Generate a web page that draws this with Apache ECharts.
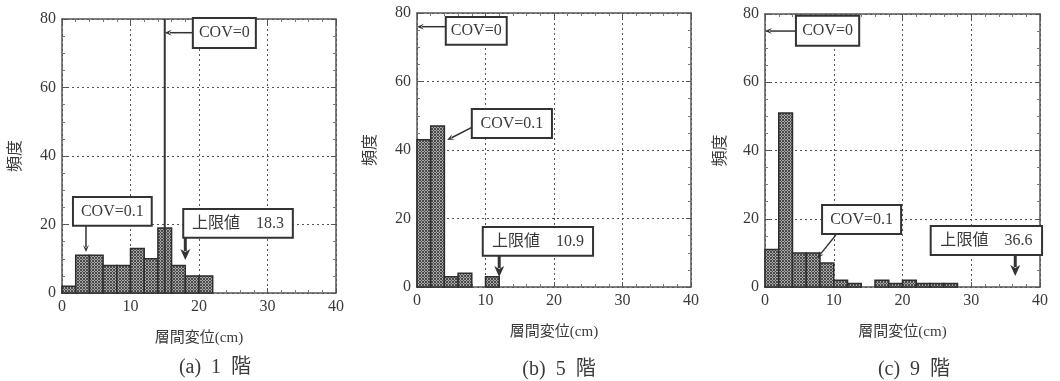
<!DOCTYPE html>
<html><head><meta charset="utf-8">
<script src="https://cdn.jsdelivr.net/npm/echarts@6/dist/echarts.min.js"></script>
<style>html,body{margin:0;padding:0;background:#fff}#c{width:1060px;height:381px}</style>
</head><body><div id="c"></div>
<script>
// ---- data ----
const BIN_START = [0, 2, 4, 6, 8, 10, 12, 14, 16, 18, 20, 22, 24, 26];
const BIN_WIDTH = 2;
const COUNTS_A = [2, 11, 11, 8, 8, 13, 10, 19, 8, 5, 5, 0, 0, 0];   // (a) 1階
const COUNTS_B = [43, 47, 3, 4, 0, 3, 0, 0, 0, 0, 0, 0, 0, 0];     // (b) 5階
const COUNTS_C = [11, 51, 10, 10, 7, 2, 1, 0, 2, 1, 2, 1, 1, 1];   // (c) 9階
const X_TICKS = [0, 10, 20, 30, 40];
const Y_TICKS = [0, 20, 40, 60, 80];
const CAPTIONS = ['(a)  1  階', '(b)  5  階', '(c)  9  階'];
const X_NAME = '層間変位(cm)';
const Y_NAME = '頻度';

// annotations in data coordinates of each panel
const ANN = [
  [
    {vline: 15},
    {box: [19.1, 28.3, 71.5, 80.3], text: 'COV=0', arrow: [[19.1, 76], [15, 76]]},
    {box: [1.6, 13.1, 19.6, 28.0], text: 'COV=0.1', arrow: [[3.5, 19.6], [3.5, 12]]},
    {box: [17.7, 33.7, 16.1, 24.5], text: '上限値　18.3', arrow: [[18, 16.1], [18, 9.6]], thick: true}
  ],
  [
    {box: [4.2, 13.1, 70.7, 78.8], text: 'COV=0', arrow: [[4.2, 76], [0, 76]]},
    {box: [8.0, 19.7, 43.5, 52.0], text: 'COV=0.1', arrow: [[8.0, 46.6], [4.4, 42.9]]},
    {box: [9.6, 25.7, 9.1, 17.5], text: '上限値　10.9', arrow: [[12, 9.1], [12, 2.9]], thick: true}
  ],
  [
    {box: [4.5, 13.7, 70.7, 79.5], text: 'COV=0', arrow: [[4.5, 75], [0, 75]]},
    {box: [8.3, 19.8, 15.5, 24.0], text: 'COV=0.1', arrow: [[10.3, 15.2], [7.6, 8.5]]},
    {box: [24.1, 40.3, 9.4, 17.9], text: '上限値　36.6', arrow: [[36.4, 9.4], [36.4, 3.2]], thick: true}
  ]
];

const FONT = "'Liberation Serif', 'Noto Sans CJK JP', serif";
const INK = '#3a3a3a';

// hatched fill
const pat = document.createElement('canvas');
pat.width = 3; pat.height = 3;
(function(){
  const g = pat.getContext('2d');
  g.fillStyle = '#a8a8a8'; g.fillRect(0,0,3,3);
  g.fillStyle = '#4a4a4a';
  g.fillRect(0,0,1,1); g.fillRect(1,1,1,1); g.fillRect(2,2,1,1);
  g.fillRect(2,0,1,1); g.fillRect(0,2,1,1);
})();

const GRIDS = [
  {left: 62, top: 19, width: 274, height: 274},
  {left: 417, top: 13, width: 274, height: 274},
  {left: 765, top: 14, width: 275, height: 273}
];
const Y_NAME_GAP = [38, 38, 36];

const xAxes = [], yAxes = [], series = [];
const countsAll = [COUNTS_A, COUNTS_B, COUNTS_C];

GRIDS.forEach((g, i) => {
  const common = {
    gridIndex: i, type: 'value', min: 0,
    axisLine: {show: true, onZero: false, lineStyle: {color: '#555', width: 1.5}},
    axisTick: {show: true, inside: true, length: 5, lineStyle: {color: '#555'}},
    minorTick: {show: true, length: 3, lineStyle: {color: '#777'}},
  };
  xAxes.push(Object.assign({}, common, {
    position: 'bottom', max: X_TICKS[X_TICKS.length-1], interval: 10,
    minorTick: Object.assign({}, common.minorTick, {splitNumber: 5}),
    axisLabel: {color: INK, fontFamily: FONT, fontSize: 16, margin: 6},
    splitLine: {show: true, lineStyle: {type: [2, 3], color: '#555', width: 1}},
    name: X_NAME, nameLocation: 'middle', nameGap: 38,
    nameTextStyle: {color: INK, fontFamily: FONT, fontSize: 15}
  }));
  xAxes.push(Object.assign({}, common, {
    position: 'top', max: 40, interval: 10,
    minorTick: Object.assign({}, common.minorTick, {splitNumber: 5}),
    axisLabel: {show: false}, splitLine: {show: false}
  }));
  yAxes.push(Object.assign({}, common, {
    position: 'left', max: Y_TICKS[Y_TICKS.length-1], interval: 20,
    minorTick: Object.assign({}, common.minorTick, {splitNumber: 4}),
    axisLabel: {color: INK, fontFamily: FONT, fontSize: 16, margin: 6},
    splitLine: {show: true, lineStyle: {type: [2, 3], color: '#555', width: 1}},
    name: Y_NAME, nameLocation: 'middle', nameGap: Y_NAME_GAP[i], nameRotate: 90,
    nameTextStyle: {color: INK, fontFamily: FONT, fontSize: 16}
  }));
  yAxes.push(Object.assign({}, common, {
    position: 'right', max: 80, interval: 20,
    minorTick: Object.assign({}, common.minorTick, {splitNumber: 4}),
    axisLabel: {show: false}, splitLine: {show: false}
  }));

  const counts = countsAll[i];
  const hist = BIN_START.map((s, k) => [s, s + BIN_WIDTH, counts[k]]).filter(d => d[2] > 0);
  series.push({
    type: 'custom', xAxisIndex: 2*i, yAxisIndex: 2*i,
    encode: {x: [0, 1], y: 2},
    data: hist,
    renderItem: function (params, api) {
      const p0 = api.coord([api.value(0), api.value(2)]);
      const p1 = api.coord([api.value(1), 0]);
      return {type: 'rect', shape: {x: p0[0], y: p0[1], width: p1[0]-p0[0], height: p1[1]-p0[1]},
        style: {fill: {image: pat, repeat: 'repeat'}, stroke: '#2e2e2e', lineWidth: 1.5}};
    },
    z: 3
  });

  const anns = ANN[i];
  series.push({
    type: 'custom', xAxisIndex: 2*i, yAxisIndex: 2*i,
    data: anns.map((a, k) => [k]),
    encode: {x: -1, y: -1},
    clip: false,
    renderItem: function (params, api) {
      const a = anns[params.dataIndex];
      const ch = [];
      if (a.vline !== undefined) {
        const t = api.coord([a.vline, 80]), b = api.coord([a.vline, 0]);
        ch.push({type: 'line', shape: {x1: t[0], y1: t[1], x2: b[0], y2: b[1]}, style: {stroke: '#333', lineWidth: 2}});
      }
      if (a.arrow) {
        const f = api.coord(a.arrow[0]), t = api.coord(a.arrow[1]);
        const dx = t[0]-f[0], dy = t[1]-f[1], L = Math.hypot(dx, dy);
        const ux = dx/L, uy = dy/L;
        const hl = a.thick ? 11 : 7, hw = a.thick ? 5 : 3;
        const bx = t[0]-ux*hl, by = t[1]-uy*hl;
        ch.push({type: 'line', shape: {x1: f[0], y1: f[1], x2: bx + ux*2, y2: by + uy*2},
          style: {stroke: '#333', lineWidth: a.thick ? 3 : 1.5}});
        ch.push({type: 'polygon', shape: {points: [[t[0], t[1]], [bx - uy*hw, by + ux*hw], [bx + ux*3, by + uy*3], [bx + uy*hw, by - ux*hw]]},
          style: {fill: '#333'}});
      }
      if (a.box) {
        const p0 = api.coord([a.box[0], a.box[3]]), p1 = api.coord([a.box[1], a.box[2]]);
        ch.push({type: 'rect', shape: {x: p0[0], y: p0[1], width: p1[0]-p0[0], height: p1[1]-p0[1]},
          style: {fill: '#fff', stroke: '#333', lineWidth: 2}});
        ch.push({type: 'text', style: {x: (p0[0]+p1[0])/2, y: (p0[1]+p1[1])/2, text: a.text,
          align: 'center', verticalAlign: 'middle', fill: INK, fontFamily: FONT, fontSize: 16}});
      }
      return {type: 'group', children: ch};
    },
    z: 5
  });
});

const CAP_POS = [[215, 368], [559, 370], [914, 370]];
const graphic = CAPTIONS.map((t, i) => ({
  type: 'text', x: CAP_POS[i][0], y: CAP_POS[i][1],
  style: {text: t, fill: INK, fontFamily: FONT, fontSize: 20, align: 'center', verticalAlign: 'middle'}
}));

const chart = echarts.init(document.getElementById('c'), null, {renderer: 'canvas'});
chart.setOption({
  backgroundColor: '#fff',
  animation: false,
  grid: GRIDS.map(g => Object.assign({containLabel: false}, g)),
  xAxis: xAxes, yAxis: yAxes, series: series,
  graphic: graphic
});
</script></body></html>
